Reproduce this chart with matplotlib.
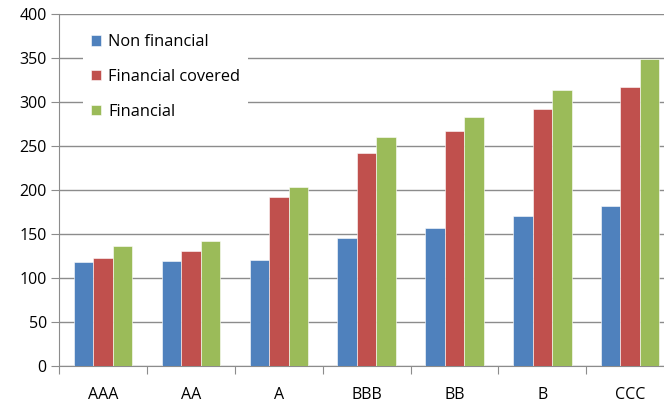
import numpy as np
import matplotlib as mpl
import matplotlib.pyplot as plt
from matplotlib.ticker import FixedLocator, NullFormatter

mpl.rcParams['font.family'] = ['Open Sans', 'DejaVu Sans']

# =============================================================================
# Data
# =============================================================================

ratings = ["AAA", "AA", "A", "BBB", "BB", "B", "CCC"]
non_financial = [118, 119, 120, 145, 157, 170, 182]
financial_covered = [123, 131, 192, 242, 267, 292, 317]
financial = [136, 142, 203, 260, 283, 314, 349]

series = [
    ("Non financial", non_financial, "#4F81BD"),
    ("Financial covered", financial_covered, "#C0504D"),
    ("Financial", financial, "#9BBB59"),
]

# =============================================================================
# Plot
# =============================================================================

fig = plt.figure(figsize=(6.64, 4.01), dpi=100)
ax = fig.add_axes([59.3 / 664, 1 - 365.7 / 401, (674 - 59.3) / 664, (365.7 - 14.3) / 401])

x = np.arange(len(ratings)) + 0.5
w = 1 / 4.5
for i, (name, vals, col) in enumerate(series):
    ax.bar(x + (i - 1) * w, vals, width=w, color=col, label=name,
           edgecolor="#ffffff", linewidth=0.4, zorder=3)

ax.set_xlim(0, len(ratings))
ax.set_ylim(0, 400)
ax.set_yticks(range(0, 401, 50))
ax.yaxis.grid(True, color="#8c8c8c", linewidth=1.0, zorder=0)
ax.set_axisbelow(True)

ax.xaxis.set_major_locator(FixedLocator(range(0, len(ratings) + 1)))
ax.xaxis.set_major_formatter(NullFormatter())
ax.xaxis.set_minor_locator(FixedLocator(x))
ax.set_xticklabels(ratings, minor=True)
ax.tick_params(axis="x", which="major", length=6, color="#8c8c8c", direction="out")
ax.tick_params(axis="x", which="minor", length=0, pad=15, labelsize=11.5)
ax.tick_params(axis="y", length=6, color="#8c8c8c", labelsize=11.5, pad=3)

for s in ["top", "right"]:
    ax.spines[s].set_visible(False)
for s in ["left", "bottom"]:
    ax.spines[s].set_color("#8c8c8c")

leg = ax.legend(loc="upper left", bbox_to_anchor=(0.025, 0.99), frameon=True,
                fancybox=False, edgecolor="none", facecolor="white", framealpha=1,
                handlelength=0.6, handleheight=0.6, handletextpad=0.45,
                labelspacing=1.15, fontsize=11.8, borderpad=0.5)
leg.set_zorder(5)

fig.savefig("out.png", dpi=100)
